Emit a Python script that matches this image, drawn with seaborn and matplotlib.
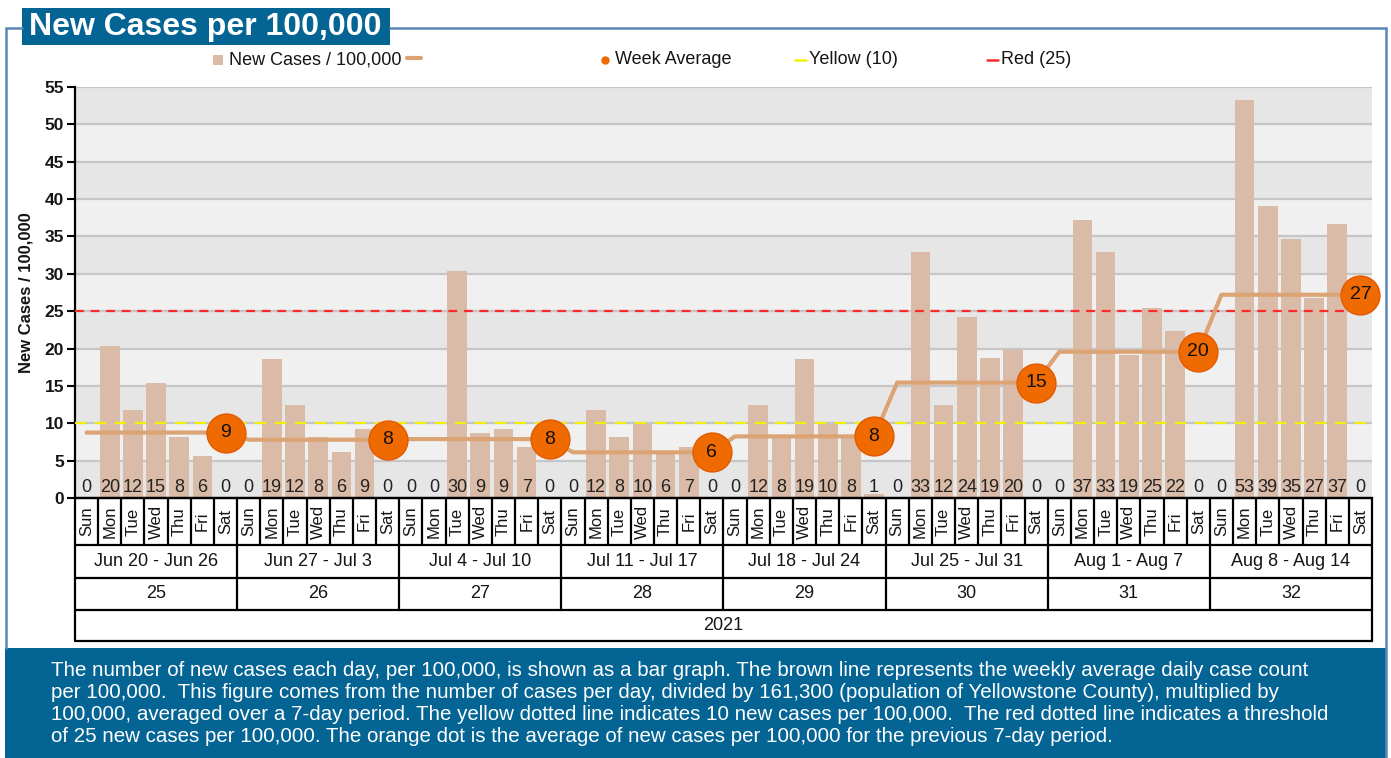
import numpy as np
import pandas as pd
import matplotlib
matplotlib.use("Agg")
import matplotlib.pyplot as plt
import seaborn as sns
from matplotlib.patches import Rectangle
from matplotlib.lines import Line2D

# ---------------- data ----------------
day_names = ["Sun", "Mon", "Tue", "Wed", "Thu", "Fri", "Sat"]
week_ranges = ["Jun 20 - Jun 26", "Jun 27 - Jul 3", "Jul 4 - Jul 10", "Jul 11 - Jul 17",
               "Jul 18 - Jul 24", "Jul 25 - Jul 31", "Aug 1 - Aug 7", "Aug 8 - Aug 14"]
week_numbers = ["25", "26", "27", "28", "29", "30", "31", "32"]
year_label = "2021"

wk25 = [0, 20.4, 11.8, 15.4, 8.1, 5.6, 0]
wk26 = [0, 18.6, 12.4, 8.1, 6.2, 9.3, 0]
wk27 = [0, 0, 30.4, 8.7, 9.3, 6.8, 0]
wk28 = [0, 11.8, 8.1, 9.9, 6.2, 6.8, 0]
wk29 = [0, 12.4, 8.1, 18.6, 9.9, 8.1, 0.6]
wk30 = [0, 32.9, 12.4, 24.2, 18.8, 19.8, 0]
wk31 = [0, 37.2, 32.9, 19.2, 25.4, 22.3, 0]
wk32 = [0, 53.3, 39.1, 34.7, 26.7, 36.6, 0]
weeks = [wk25, wk26, wk27, wk28, wk29, wk30, wk31, wk32]

yellow_level = 10
red_level = 25

legend_labels = ["New Cases / 100,000", "Week Average", "Yellow (10)", "Red (25)"]
title_text = "New Cases per 100,000"
ylabel_text = "New Cases / 100,000"
footer_lines = [
    "The number of new cases each day, per 100,000, is shown as a bar graph. The brown line represents the weekly average daily case count",
    "per 100,000.  This figure comes from the number of cases per day, divided by 161,300 (population of Yellowstone County), multiplied by",
    "100,000, averaged over a 7-day period. The yellow dotted line indicates 10 new cases per 100,000.  The red dotted line indicates a threshold",
    "of 25 new cases per 100,000. The orange dot is the average of new cases per 100,000 for the previous 7-day period.",
]

# build tables
values = [v for w in weeks for v in w]
n = len(values)
week_avg = [float(np.mean(w)) for w in weeks]
df = pd.DataFrame({
    "pos": np.arange(n),
    "value": values,
    "avg": [week_avg[i // 7] for i in range(n)],
})
dots = pd.DataFrame({"pos": [7 * k + 6 for k in range(len(weeks))], "avg": week_avg})

# ---------------- style ----------------
sns.set_style("white")
plt.rcParams["font.family"] = ["Liberation Sans", "DejaVu Sans"]

W, H = 1391, 758
fig = plt.figure(figsize=(W / 100, H / 100), dpi=100)


def fx(px):
    return px / W


def fy(py):
    return 1 - py / H


BLUE = "#046595"
FRAME = "#5b86b8"
BAR = "#d9bba7"
LINE = "#dca474"
DOT = "#ef6a00"
TXT = "#151515"

AX_L, AX_R, AX_T, AX_B = 75, 1372, 87, 498
ax = fig.add_axes([fx(AX_L), fy(AX_B), fx(AX_R - AX_L), (AX_B - AX_T) / H])

# background bands
for lo in range(0, 55, 5):
    ax.axhspan(lo, lo + 5, color="#e6e6e6" if lo % 10 == 0 else "#f0f0f0", zorder=0, lw=0)
for g in range(5, 60, 5):
    ax.axhline(g, color="#c6c6c6", lw=1.6, zorder=0.5)

sns.barplot(data=df, x="pos", y="value", native_scale=True, width=0.85,
            color=BAR, saturation=1, ax=ax, zorder=2, edgecolor="none")

ax.axhline(yellow_level, color="#f2f200", lw=1.6, ls=(0, (5, 4)), zorder=3)
ax.axhline(red_level, color="#ff2a2a", lw=1.6, ls=(0, (4, 3)), zorder=3)

sns.lineplot(data=df, x="pos", y="avg", color=LINE, lw=3, ax=ax, zorder=4)
sns.scatterplot(data=dots, x="pos", y="avg", s=28 ** 2, color=DOT, edgecolor="#e25a00",
                linewidth=1, ax=ax, zorder=5, clip_on=False)
for p, a in zip(dots["pos"], dots["avg"]):
    ax.text(p, a, f"{a:.0f}", ha="center", va="center", fontsize=14, color="#111", zorder=6)

for p, v in zip(df["pos"], df["value"]):
    ax.text(p, 0.25, f"{v:.0f}", ha="center", va="bottom", fontsize=13, color="#222", zorder=6)

ax.set_xlim(-0.5, n - 0.5)
ax.set_ylim(0, 55)
ax.set_yticks(range(0, 60, 5))
ax.set_xticks([])
ax.set_xlabel("")
ax.set_ylabel(ylabel_text, fontsize=12, fontweight="bold", labelpad=8, color=TXT)
ax.tick_params(axis="y", direction="out", length=6, width=1.5, color="black",
               labelsize=12.5, pad=2, left=True, labelcolor=TXT)
for lbl in ax.get_yticklabels():
    lbl.set_fontweight("bold")
for s in ["top", "right"]:
    ax.spines[s].set_visible(False)
ax.spines["left"].set_color("black")
ax.spines["left"].set_linewidth(1.6)
ax.spines["bottom"].set_color("black")
ax.spines["bottom"].set_linewidth(1.6)
ax.grid(False)

# ---------------- category table ----------------
T_TOP, R1, R2, R3, T_BOT = 498, 545, 578, 610, 641
tax = fig.add_axes([fx(AX_L), fy(T_BOT), fx(AX_R - AX_L), (T_BOT - T_TOP) / H])
tax.set_xlim(-0.5, n - 0.5)
tax.set_ylim(T_BOT, T_TOP)
tax.axis("off")
lw = 1.6
for y in [T_TOP, R1, R2, R3, T_BOT]:
    tax.plot([-0.5, n - 0.5], [y, y], color="black", lw=lw, clip_on=False)
for i in range(n + 1):
    x = i - 0.5
    if i % 7 == 0:
        y1 = R3 if 0 < i < n else T_BOT
    else:
        y1 = R1
    tax.plot([x, x], [T_TOP, y1], color="black", lw=lw, clip_on=False)
for i in range(n):
    tax.text(i, (T_TOP + R1) / 2, day_names[i % 7], rotation=90, ha="center", va="center",
             fontsize=12, color=TXT)
for k in range(len(weeks)):
    c = 7 * k + 3
    tax.text(c, (R1 + R2) / 2, week_ranges[k], ha="center", va="center", fontsize=13, color=TXT)
    tax.text(c, (R2 + R3) / 2, week_numbers[k], ha="center", va="center", fontsize=13, color=TXT)
tax.text((n - 1) / 2, (R3 + T_BOT) / 2, year_label, ha="center", va="center", fontsize=13, color=TXT)

# ---------------- frame, title, footer ----------------
fig.add_artist(Line2D([fx(6), fx(6)], [fy(28), fy(648)], color=FRAME, lw=1.8))
fig.add_artist(Line2D([fx(6), fx(22)], [fy(28), fy(28)], color=FRAME, lw=1.8))
fig.add_artist(Line2D([fx(390), fx(1386)], [fy(28), fy(28)], color=FRAME, lw=1.8))
fig.add_artist(Line2D([fx(1386), fx(1386)], [fy(28), fy(758)], color=FRAME, lw=1.8))

fig.add_artist(Rectangle((fx(22), fy(45)), fx(368), 37 / H, facecolor=BLUE, edgecolor="none"))
fig.text(fx(29), fy(27), title_text, color="white", fontsize=23, fontweight="bold",
         ha="left", va="center")

fig.add_artist(Rectangle((fx(5), 0), fx(1381), (H - 648) / H, facecolor=BLUE, edgecolor="none"))
for i, line in enumerate(footer_lines):
    fig.text(fx(51), fy(676 + i * 22), line, color="white", fontsize=14.75, ha="left", va="baseline")

# ---------------- legend ----------------
LY = 60
leg_fs = 13
fig.add_artist(Rectangle((fx(213), fy(LY + 5)), fx(10), 10 / H, facecolor=BAR, edgecolor="none"))
fig.text(fx(229), fy(LY), legend_labels[0], fontsize=leg_fs, ha="left", va="center", color=TXT)
fig.add_artist(Line2D([fx(407), fx(421)], [fy(LY - 2), fy(LY - 2)], color=LINE, lw=3))
fig.add_artist(Line2D([fx(605)], [fy(LY)], marker="o", markersize=5, color=DOT, lw=0))
fig.text(fx(615), fy(LY), legend_labels[1], fontsize=leg_fs, ha="left", va="center", color=TXT)
fig.add_artist(Line2D([fx(795), fx(806)], [fy(LY), fy(LY)], color="#f2f200", lw=1.8))
fig.text(fx(809), fy(LY), legend_labels[2], fontsize=leg_fs, ha="left", va="center", color=TXT)
fig.add_artist(Line2D([fx(987), fx(998)], [fy(LY), fy(LY)], color="#ff2a2a", lw=1.8))
fig.text(fx(1001), fy(LY), legend_labels[3], fontsize=leg_fs, ha="left", va="center", color=TXT)

fig.savefig("out.png", dpi=100, facecolor="white")
